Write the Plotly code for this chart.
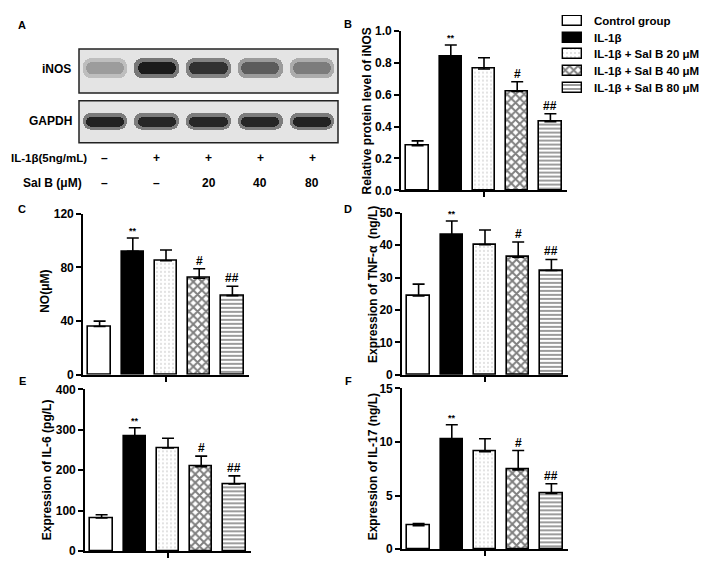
import plotly.graph_objects as go

# the page keeps the browser's default 8 px body margin, so the figure is
# drawn 8 px smaller and every pixel position below is given in page pixels
PAGE_W, PAGE_H, PAD = 709, 564, 8
W, H = PAGE_W - PAD, PAGE_H - PAD

# ---- data ----
groups = ["Control group", "IL-1β", "IL-1β + Sal B 20 μM", "IL-1β + Sal B 40 μM", "IL-1β + Sal B 80 μM"]
sig = ["", "**", "", "#", "##"]

inos_mean = [0.28, 0.84, 0.76, 0.62, 0.43]
inos_sd = [0.03, 0.07, 0.07, 0.06, 0.05]
no_mean = [36, 92, 85, 72, 59]
no_sd = [4, 10, 8, 7, 7]
tnf_mean = [24.3, 43.2, 40.2, 36.3, 32.2]
tnf_sd = [3.7, 4.3, 4.5, 4.7, 3.4]
il6_mean = [82, 283, 255, 209, 166]
il6_sd = [8, 22, 24, 26, 20]
il17_mean = [2.2, 10.2, 9.1, 7.4, 5.2]
il17_sd = [0.2, 1.4, 1.2, 1.8, 0.9]

# western blot (panel A)
lanes = [1, 2, 3, 4, 5]
il1b_row = ["–", "+", "+", "+", "+"]
salb_row = ["–", "–", "20", "40", "80"]
inos_band = [0.35, 0.95, 0.85, 0.65, 0.5]
gapdh_band = [0.92, 0.9, 0.9, 0.9, 0.92]


def fx(p):
    return (p - PAD) / W


def fy(p):
    return 1 - (p - PAD) / H


BOLD = dict(family="Arial", size=12, color="black", weight="bold")

styles = [
    dict(color="white"),
    dict(color="black"),
    dict(color="white", pattern=dict(shape=".", fgcolor="#777777", bgcolor="white", size=4, solidity=0.12)),
    dict(color="white", pattern=dict(shape="x", fgcolor="black", bgcolor="white", size=6, solidity=0.55)),
    dict(color="white", pattern=dict(shape="-", fgcolor="#222222", bgcolor="white", size=4, solidity=0.45)),
]

fig = go.Figure()


def text(x, y, s, font=BOLD, **kw):
    opts = dict(xanchor="center", yanchor="middle")
    opts.update(kw)
    fig.add_annotation(x=fx(x), y=fy(y), xref="paper", yref="paper", text=s,
                       showarrow=False, font=font, **opts)


# ---- blot panel ----
def band_color(v, base=232, span=215):
    g = int(base - span * v)
    return f"rgb({g},{g},{g})"


blots = [
    (1, inos_band, (43, 88), 0.56, 0.28),
    (2, gapdh_band, (96, 139), 0.51, 0.24),
]
for ax, band, (top, bot), center, thick in blots:
    xa = "x" if ax == 1 else f"x{ax}"
    ya = "y" if ax == 1 else f"y{ax}"
    # soft halo then core
    fig.add_trace(go.Bar(
        x=lanes, y=[thick * 1.6] * 5, base=[center - thick * 0.8] * 5, width=0.86,
        marker=dict(color=[band_color(v * 0.55) for v in band], line_width=0, cornerradius=8),
        xaxis=xa, yaxis=ya, showlegend=False, hoverinfo="skip",
    ))
    fig.add_trace(go.Bar(
        x=lanes, y=[thick] * 5, base=[center - thick / 2] * 5, width=0.74,
        marker=dict(color=[band_color(v) for v in band], line_width=0, cornerradius=6),
        xaxis=xa, yaxis=ya, showlegend=False, hoverinfo="skip",
    ))
    fig.add_shape(type="rect", xref=f"{xa} domain", yref=f"{ya} domain", x0=0, x1=1, y0=0, y1=1,
                  fillcolor="#e4e4e4", line=dict(color="#222222", width=1.5), layer="below")
    fig.update_layout(**{
        ("xaxis" if ax == 1 else f"xaxis{ax}"): dict(domain=[fx(79), fx(338)], range=[0.5, 5.5], visible=False),
        ("yaxis" if ax == 1 else f"yaxis{ax}"): dict(domain=[fy(bot), fy(top)], range=[0, 1], visible=False),
    })

# ---- bar panels ----
panels = [
    # axis, means, sds, (left, right, top, bottom), ymax, dtick, title, title x px, title y px, fmt
    (3, inos_mean, inos_sd, (401, 567, 24, 188), 1.0, 0.2, "Relative protein level of iNOS", 367, 107, ".1f"),
    (4, no_mean, no_sd, (83, 249, 212, 377), 120, 40, "NO(μM)", 45, 292, ""),
    (5, tnf_mean, tnf_sd, (402, 568, 211, 377), 50, 10, "Expression of TNF-α  (ng/L)", 373, 285, ""),
    (6, il6_mean, il6_sd, (85, 251, 392, 558), 400, 100, "Expression of IL-6 (pg/L)", 47, 475, ""),
    (7, il17_mean, il17_sd, (402, 568, 391, 556), 15, 5, "Expression of IL-17 (ng/L)", 373, 472, ""),
]

for ax, means, sds, (l, r, t, b), ymax, dtick, title, tx, ty, fmt in panels:
    for i, g in enumerate(groups):
        fig.add_trace(go.Bar(
            x=[i], y=[means[i]], width=0.67, name=g, showlegend=False,
            marker=dict(line=dict(color="black", width=1.6), **styles[i]),
            error_y=dict(type="data", array=[sds[i]], arrayminus=[0], symmetric=False,
                         color="black", thickness=1.6, width=6),
            xaxis=f"x{ax}", yaxis=f"y{ax}",
        ))
        if sig[i]:
            fig.add_annotation(
                x=i, y=means[i] + sds[i], xref=f"x{ax}", yref=f"y{ax}", text=sig[i],
                showarrow=False, yanchor="bottom", yshift=0 if sig[i] == "**" else -1,
                font=dict(family="Arial", size=9 if sig[i] == "**" else 12, color="black", weight="bold"),
            )
    axis_line = dict(showline=True, linecolor="black", linewidth=1.6, ticks="outside",
                     ticklen=5, tickwidth=1.6, tickcolor="black", showgrid=False, zeroline=False)
    fig.update_layout(**{
        f"xaxis{ax}": dict(domain=[fx(l), fx(r)], range=[-0.5, 4.5], tickvals=[2],
                           showticklabels=False, anchor=f"y{ax}", **axis_line),
        f"yaxis{ax}": dict(domain=[fy(b), fy(t)], range=[0, ymax], dtick=dtick, tick0=0,
                           tickformat=fmt, tickfont=BOLD, anchor=f"x{ax}", **axis_line),
    })
    text(tx, ty, title, textangle=-90)

# ---- legend, drawn as a small horizontal bar chart (rows 17.2 px apart, first at y=14) ----
for i, g in enumerate(groups):
    fig.add_trace(go.Bar(
        y=[i], x=[1], orientation="h", width=0.6, showlegend=False, hoverinfo="skip",
        marker=dict(line=dict(color="black", width=1.4), **styles[i]),
        xaxis="x8", yaxis="y8",
    ))
    fig.add_annotation(x=fx(592), y=i, xref="paper", yref="y8", text=g, showarrow=False,
                       xanchor="left", yanchor="middle", font=dict(BOLD, size=11.5))
fig.update_layout(
    xaxis8=dict(domain=[fx(561), fx(584)], range=[-0.1, 1.1], visible=False, anchor="y8"),
    yaxis8=dict(domain=[fy(93), fy(8)], range=[4.593, -0.349], visible=False, anchor="x8"),
)

# ---- text ----
for s, x, y in [("A", 22, 18), ("B", 348, 17), ("C", 22, 207), ("D", 348, 207), ("E", 22, 383), ("F", 348, 383)]:
    text(x, y, s, font=dict(family="Arial", size=11, color="black", weight="bold"))

text(73, 63, "iNOS", xanchor="right")
text(74, 117, "GAPDH", xanchor="right")
text(89, 155, "IL-1β(5ng/mL)", xanchor="right", font=dict(BOLD, size=11.5))
text(84, 180, "Sal B (μM)", xanchor="right")

for row, y in [(il1b_row, 155), (salb_row, 180)]:
    for lane, s in zip(lanes, row):
        fig.add_annotation(x=lane, y=fy(y), xref="x", yref="paper", text=s, showarrow=False,
                           yanchor="middle", font=BOLD)

fig.update_layout(
    width=W, height=H, margin=dict(l=0, r=0, t=0, b=0),
    paper_bgcolor="white", plot_bgcolor="white",
    barmode="overlay", bargap=0, showlegend=False,
    font=dict(family="Arial", size=12, color="black"),
)

fig.write_html("out.html")
